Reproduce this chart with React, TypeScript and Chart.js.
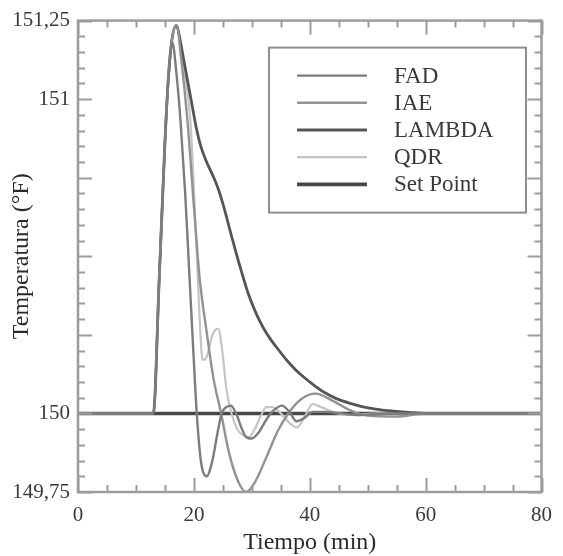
import React, { useEffect, useRef } from "react";
import { Chart, registerables } from "chart.js";

Chart.register(...registerables);

const seriesLabels = ["FAD", "IAE", "LAMBDA", "QDR", "Set Point"];
const seriesColors = ["#7c7c7c", "#929292", "#555555", "#c4c4c4", "#474747"];
const seriesWidths = [2.4, 2.4, 2.8, 2.2, 3.6];

const xTickValues = [0, 20, 40, 60, 80];
const xTickLabels = ["0", "20", "40", "60", "80"];
const yTickValues = [149.75, 150, 150.25, 150.5, 150.75, 151, 151.25];
const yTickLabels = ["149,75", "150", "", "", "", "151", "151,25"];

const fadData = [
  [0, 150], [13, 150], [14, 150.42], [15, 150.86], [15.6, 151.06], [16.3, 151.18],
  [17.0, 151.08], [17.7, 150.93], [18.5, 150.7], [19.2, 150.45], [19.9, 150.2],
  [20.5, 150.0], [21.2, 149.85], [22.2, 149.8], [23.2, 149.85], [24.0, 149.93],
  [24.8, 150.0], [25.6, 150.02], [26.4, 150.025], [27.5, 149.99], [28.2, 149.955],
  [29.0, 149.925], [30.0, 149.92], [31.0, 149.935], [32.5, 149.98], [33.5, 150.005],
  [35.2, 150.025], [36.5, 150.005], [37.7, 149.975], [39.0, 149.985], [40.5, 150.005],
  [43, 150.005], [48, 149.995], [55, 150], [80, 150],
];
const iaeData = [
  [0, 150], [13, 150], [14, 150.42], [15, 150.86], [15.6, 151.07], [16.3, 151.2],
  [17.0, 151.235], [17.8, 151.13], [18.9, 150.93], [20.0, 150.66], [21.0, 150.43],
  [22.2, 150.26], [23.4, 150.11], [24.7, 150.0], [26.0, 149.88], [27.5, 149.79],
  [29.0, 149.75], [30.5, 149.78], [32.5, 149.86], [34.5, 149.945], [36.3, 150.0],
  [38.5, 150.045], [41.0, 150.063], [44.0, 150.04], [47.0, 150.01], [50.0, 149.993],
  [55.0, 149.99], [60.0, 150], [80, 150],
];
const lambdaData = [
  [0, 150], [13, 150], [14, 150.42], [15, 150.86], [15.6, 151.07], [16.3, 151.2],
  [17.0, 151.235], [17.6, 151.19], [18.3, 151.12], [19.0, 151.05], [19.7, 150.98],
  [20.4, 150.91], [21.2, 150.85], [22.2, 150.8], [23.2, 150.76], [24.2, 150.715],
  [25.2, 150.655], [26.2, 150.585], [27.3, 150.51], [28.4, 150.44], [29.5, 150.375],
  [30.7, 150.32], [32.0, 150.272], [33.3, 150.234], [34.5, 150.205], [36.0, 150.17],
  [37.5, 150.14], [39.0, 150.115], [40.7, 150.09], [42.4, 150.068], [44.5, 150.048],
  [47.0, 150.032], [49.0, 150.022], [51.4, 150.014], [54.0, 150.008], [57.0, 150.003],
  [60.0, 150], [80, 150],
];
const qdrData = [
  [0, 150], [13, 150], [14, 150.42], [15, 150.86], [15.6, 151.07], [16.3, 151.2],
  [17.0, 151.235], [18.0, 151.12], [19.4, 150.93], [20.4, 150.55], [21.0, 150.3],
  [21.5, 150.17], [22.2, 150.18], [23.2, 150.25], [24.2, 150.27], [24.9, 150.2],
  [25.6, 150.08], [26.5, 150.0], [27.5, 149.95], [28.5, 149.93], [29.5, 149.925],
  [30.5, 149.95], [31.5, 149.99], [32.5, 150.02], [33.5, 150.02], [35.0, 150.0],
  [36.5, 149.97], [37.8, 149.955], [39.0, 149.985], [40.5, 150.03], [42.0, 150.02],
  [44.0, 150.005], [47.0, 149.995], [52.0, 150], [80, 150],
];
const setPointData = [[0, 150], [80, 150]];

const allSeries = [fadData, iaeData, lambdaData, qdrData, setPointData];

const FONT = "'Liberation Serif', 'Times New Roman', serif";

const framePlugin = {
  id: "frame",
  afterDatasetsDraw(chart: any) {
    const { ctx, chartArea, scales } = chart;
    const { left, right, top, bottom } = chartArea;
    const x = scales.x;
    const y = scales.y;
    ctx.save();
    ctx.strokeStyle = "#9c9c9c";
    ctx.lineWidth = 2;
    ctx.beginPath();
    for (let i = 0; i <= 16; i++) {
      const v = i * 5;
      const px = Math.round(x.getPixelForValue(v)) + 0.5;
      const len = i % 4 === 0 ? 14 : 7;
      ctx.moveTo(px, bottom);
      ctx.lineTo(px, bottom - len);
      ctx.moveTo(px, top);
      ctx.lineTo(px, top + len);
    }
    for (let i = 0; i <= 30; i++) {
      const v = 149.75 + i * 0.05;
      const py = Math.round(y.getPixelForValue(v)) + 0.5;
      const len = i % 5 === 0 ? 14 : 7;
      ctx.moveTo(left, py);
      ctx.lineTo(left + len, py);
      ctx.moveTo(right, py);
      ctx.lineTo(right - len, py);
    }
    ctx.stroke();
    ctx.lineWidth = 2.5;
    ctx.strokeRect(left, top, right - left, bottom - top);
    ctx.restore();
  },
};

const legendPlugin = {
  id: "boxLegend",
  afterDraw(chart: any) {
    const { ctx, chartArea } = chart;
    const bx = chartArea.left + 191;
    const by = chartArea.top + 27;
    const bw = 257;
    const bh = 165;
    ctx.save();
    ctx.strokeStyle = "#8e8e8e";
    ctx.lineWidth = 2;
    ctx.strokeRect(bx, by, bw, bh);
    ctx.font = `23px ${FONT}`;
    ctx.textBaseline = "middle";
    ctx.textAlign = "left";
    chart.data.datasets.forEach((ds: any, i: number) => {
      const ry = by + 28 + i * 27.2;
      ctx.strokeStyle = ds.borderColor;
      ctx.lineWidth = ds.borderWidth;
      ctx.beginPath();
      ctx.moveTo(bx + 28, ry);
      ctx.lineTo(bx + 98, ry);
      ctx.stroke();
      ctx.fillStyle = "#3a3a3a";
      ctx.fillText(ds.label, bx + 125, ry + 1);
    });
    ctx.restore();
  },
};

export default function App() {
  const canvasRef = useRef<HTMLCanvasElement | null>(null);

  useEffect(() => {
    if (!canvasRef.current) return;
    const chart = new Chart(canvasRef.current, {
      type: "line",
      data: {
        datasets: allSeries.map((s, i) => ({
          label: seriesLabels[i],
          data: s.map(([x, y]) => ({ x, y })),
          borderColor: seriesColors[i],
          backgroundColor: seriesColors[i],
          borderWidth: seriesWidths[i],
          pointRadius: 0,
          cubicInterpolationMode: "monotone" as const,
          fill: false,
        })),
      },
      options: {
        animation: false,
        responsive: false,
        maintainAspectRatio: false,
        layout: { padding: { left: 0, top: 20, right: 10, bottom: 0 } },
        plugins: {
          legend: { display: false },
          tooltip: { enabled: false },
        },
        scales: {
          x: {
            type: "linear",
            min: 0,
            max: 80,
            afterBuildTicks: (scale: any) => {
              scale.ticks = xTickValues.map((v) => ({ value: v }));
            },
            afterFit: (scale: any) => {
              scale.height = 64;
            },
            grid: { display: false, drawTicks: false },
            border: { display: false },
            ticks: {
              padding: 11,
              color: "#3a3a3a",
              font: { family: FONT, size: 21 },
              maxRotation: 0,
              callback: (v: any) => {
                const idx = xTickValues.indexOf(Number(v));
                return idx >= 0 ? xTickLabels[idx] : "";
              },
            },
            title: {
              display: true,
              text: "Tiempo (min)",
              color: "#2a2a2a",
              font: { family: FONT, size: 24, lineHeight: 1 },
              padding: { top: 0, bottom: 1 },
            },
          },
          y: {
            type: "linear",
            min: 149.75,
            max: 151.25,
            afterBuildTicks: (scale: any) => {
              scale.ticks = yTickValues.map((v) => ({ value: v }));
            },
            afterFit: (scale: any) => {
              scale.width = 78;
            },
            grid: { display: false, drawTicks: false },
            border: { display: false },
            ticks: {
              padding: 8,
              color: "#3a3a3a",
              font: { family: FONT, size: 21 },
              callback: (v: any) => {
                const idx = yTickValues.findIndex((t) => Math.abs(t - Number(v)) < 1e-6);
                return idx >= 0 ? yTickLabels[idx] : "";
              },
            },
            title: {
              display: true,
              text: "Temperatura (°F)",
              color: "#2a2a2a",
              font: { family: FONT, size: 24, lineHeight: 1 },
              padding: { top: 10, bottom: 0 },
            },
          },
        },
      },
      plugins: [framePlugin, legendPlugin],
    });
    return () => chart.destroy();
  }, []);

  return (
    <div style={{ position: "absolute", left: 0, top: 0, width: 563, height: 556, background: "#fff" }}>
      <canvas ref={canvasRef} width={563} height={556} style={{ display: "block" }} />
    </div>
  );
}
